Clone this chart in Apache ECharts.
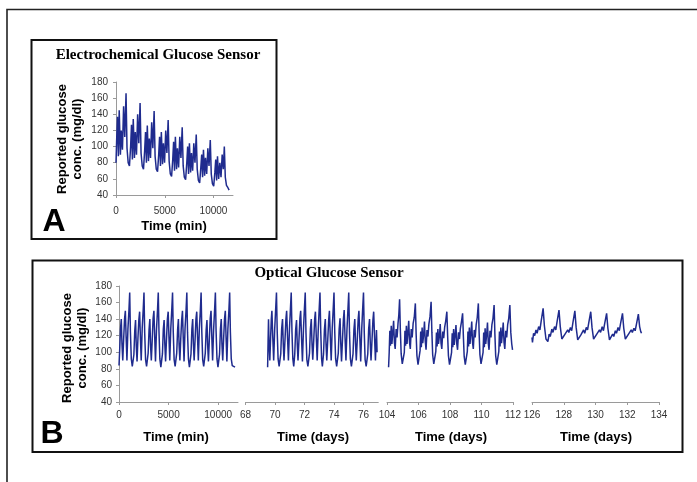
<!DOCTYPE html>
<html><head><meta charset="utf-8">
<script src="https://cdn.jsdelivr.net/npm/echarts@6/dist/echarts.min.js"></script>
<style>html,body{margin:0;padding:0;background:#fff}#c{width:697px;height:482px}</style>
</head><body><div id="c"></div>
<script>
// ---- Data ----
// Panel A: electrochemical sensor, time (min) vs reported glucose (mg/dl)
const elecA = [
[0,80],[60,105],[150,137],[240,88],[330,145],[450,90],[540,120],[660,96],[780,150],[900,112],[1030,166],[1130,98],[1250,80],[1380,76],
[1500,100],[1590,127],[1680,84],[1770,134],[1890,86],[1980,118],[2100,90],[2220,140],[2340,104],[2470,154],[2570,92],[2690,76],[2820,72],
[2940,95],[3030,118],[3120,80],[3210,126],[3330,82],[3420,110],[3540,86],[3660,130],[3780,98],[3910,144],[4010,88],[4130,72],[4260,69],
[4380,90],[4470,112],[4560,76],[4650,118],[4770,78],[4860,104],[4980,80],[5100,120],[5220,92],[5350,133],[5450,82],[5570,66],[5700,63],
[5820,84],[5910,106],[6000,70],[6090,112],[6210,72],[6300,98],[6420,74],[6540,112],[6660,86],[6790,124],[6890,76],[7010,62],[7140,59],
[7260,80],[7350,100],[7440,66],[7530,104],[7650,68],[7740,92],[7860,70],[7980,104],[8100,80],[8230,115],[8330,72],[8450,58],[8580,55],
[8700,74],[8790,90],[8880,62],[8970,96],[9090,64],[9180,86],[9300,66],[9420,98],[9540,76],[9670,108],[9770,66],[9890,54],[10020,51],
[10140,68],[10230,84],[10320,58],[10410,88],[10530,60],[10650,80],[10770,62],[10890,90],[11010,72],[11110,100],[11210,62],[11330,52],[11480,49],[11600,46]
];
// Panel B, segment 1: optical sensor, time (min)
const optB1 = [
[0,84],[60,100],[150,128],[230,140],[300,110],[380,90],[470,116],[560,140],[640,150],[720,118],[800,90],[900,128],[1000,150],[1080,172],[1150,125],[1240,92],[1340,83],
[1440,82],[1500,97],[1590,126],[1670,139],[1740,108],[1820,89],[1910,117],[2000,139],[2080,149],[2160,117],[2240,90],[2340,129],[2440,151],[2520,172],[2590,124],[2680,91],[2780,83],
[2880,82],[2940,99],[3030,127],[3110,140],[3180,109],[3260,90],[3350,115],[3440,141],[3520,150],[3600,119],[3680,89],[3780,127],[3880,150],[3960,172],[4030,126],[4120,92],[4220,82],
[4320,82],[4380,98],[4470,128],[4550,139],[4620,110],[4700,89],[4790,116],[4880,140],[4960,149],[5040,118],[5120,90],[5220,128],[5320,151],[5400,172],[5470,125],[5560,91],[5660,83],
[5760,82],[5820,99],[5910,127],[5990,140],[6060,109],[6140,90],[6230,117],[6320,139],[6400,150],[6480,117],[6560,89],[6660,129],[6760,150],[6840,172],[6910,124],[7000,92],[7100,82],
[7200,82],[7260,98],[7350,128],[7430,140],[7500,110],[7580,90],[7670,115],[7760,140],[7840,149],[7920,118],[8000,90],[8100,128],[8200,150],[8280,172],[8350,125],[8440,91],[8540,83],
[8640,82],[8700,99],[8790,127],[8870,139],[8940,109],[9020,89],[9110,116],[9200,141],[9280,150],[9360,118],[9440,90],[9540,127],[9640,151],[9720,172],[9790,126],[9880,92],[9980,82],
[10080,82],[10140,98],[10230,128],[10310,140],[10380,110],[10460,90],[10550,116],[10640,140],[10720,150],[10800,117],[10880,89],[10980,128],[11080,150],[11160,172],[11230,125],[11320,92],[11420,84],[11560,82],[11700,82]
];
// Panel B, segment 2: days 68-77
const optB2 = [
[69.5,82],[69.53,112],[69.56,140],[69.6,110],[69.65,90],[69.7,116],[69.75,140],[69.79,150],[69.85,118],[69.91,90],[69.98,128],[70.04,150],[70.1,172],[70.15,125],[70.21,92],[70.28,83],
[70.35,82],[70.39,98],[70.45,128],[70.51,140],[70.56,110],[70.61,90],[70.68,116],[70.74,140],[70.79,150],[70.85,118],[70.91,90],[70.98,128],[71.04,150],[71.1,172],[71.15,125],[71.21,92],[71.27,83],
[71.3,82],[71.34,98],[71.4,127],[71.46,139],[71.51,109],[71.56,90],[71.63,117],[71.69,141],[71.74,150],[71.8,117],[71.86,89],[71.93,128],[71.99,151],[72.05,172],[72.1,124],[72.16,91],[72.23,83],
[72.3,82],[72.34,99],[72.4,128],[72.46,140],[72.51,110],[72.56,91],[72.63,116],[72.69,140],[72.74,149],[72.8,118],[72.86,90],[72.93,127],[72.99,150],[73.05,172],[73.1,126],[73.16,92],[73.21,83],
[73.25,82],[73.29,98],[73.35,127],[73.41,140],[73.46,109],[73.51,90],[73.58,116],[73.64,139],[73.69,150],[73.75,118],[73.81,90],[73.88,129],[73.94,150],[74.0,172],[74.05,125],[74.11,92],[74.18,83],
[74.25,82],[74.29,99],[74.35,128],[74.41,141],[74.46,110],[74.51,89],[74.58,117],[74.64,140],[74.69,151],[74.75,117],[74.81,90],[74.88,128],[74.94,150],[75.0,172],[75.05,124],[75.11,92],[75.18,83],
[75.25,82],[75.29,98],[75.35,127],[75.41,140],[75.46,110],[75.51,90],[75.58,116],[75.64,140],[75.69,150],[75.75,118],[75.81,89],[75.88,128],[75.94,151],[76.0,172],[76.05,125],[76.11,91],[76.18,83],
[76.25,82],[76.29,98],[76.35,128],[76.41,140],[76.46,110],[76.51,90],[76.58,116],[76.64,139],[76.69,149],[76.75,118],[76.81,90],[76.88,127],[76.92,100]
];
// Panel B, segment 3: days 104-112
const optB3 = [
[104.1,82],[104.14,100],[104.18,126],[104.22,108],[104.27,132],[104.31,110],[104.37,124],[104.42,138],[104.47,112],[104.52,104],[104.58,128],[104.64,118],[104.7,135],[104.75,145],[104.8,164],
[104.85,125],[104.9,98],[104.97,86],[105.05,84],[105.1,100],[105.14,126],[105.18,108],[105.23,132],[105.27,110],[105.33,124],[105.38,138],[105.43,112],[105.48,104],[105.54,128],[105.6,118],[105.66,135],[105.73,142],[105.8,159],
[105.85,122],[105.9,96],[105.97,85],[106.05,84],[106.1,102],[106.14,125],[106.18,106],[106.23,130],[106.27,111],[106.33,122],[106.38,137],[106.43,113],[106.48,103],[106.54,127],[106.6,119],[106.66,134],[106.73,143],[106.8,161],
[106.85,124],[106.9,97],[106.97,86],[107.05,85],[107.1,101],[107.14,124],[107.18,107],[107.23,128],[107.27,110],[107.33,120],[107.38,134],[107.43,111],[107.48,104],[107.54,125],[107.6,117],[107.66,130],[107.73,138],[107.8,149],
[107.85,120],[107.9,96],[107.97,85],[108.05,84],[108.1,100],[108.14,123],[108.18,106],[108.23,128],[108.27,109],[108.33,121],[108.38,133],[108.43,110],[108.48,103],[108.54,124],[108.6,116],[108.66,129],[108.73,137],[108.8,147],
[108.85,119],[108.9,95],[108.97,85],[109.05,84],[109.1,101],[109.14,125],[109.18,107],[109.23,130],[109.27,110],[109.33,123],[109.38,137],[109.43,112],[109.48,104],[109.54,127],[109.6,118],[109.66,133],[109.73,142],[109.8,159],
[109.85,123],[109.9,97],[109.97,86],[110.05,85],[110.1,100],[110.14,124],[110.18,106],[110.23,129],[110.27,110],[110.33,122],[110.38,136],[110.43,111],[110.48,103],[110.54,126],[110.6,118],[110.66,133],[110.73,141],[110.8,157],
[110.85,122],[110.9,96],[110.97,85],[111.05,84],[111.1,101],[111.14,125],[111.18,107],[111.23,130],[111.27,111],[111.33,123],[111.38,136],[111.43,112],[111.48,104],[111.54,126],[111.6,118],[111.66,133],[111.73,141],[111.8,157],
[111.86,124],[111.92,110],[111.97,103]
];
// Panel B, segment 4: days 126-134
const optB4 = [
[126.0,118],[126.03,112],[126.1,123],[126.17,120],[126.25,127],[126.32,123],[126.42,131],[126.5,127],[126.58,138],[126.7,153],
[126.78,132],[126.88,116],[127.0,113],[127.08,122],[127.15,119],[127.25,128],[127.32,124],[127.42,131],[127.5,127],[127.58,137],[127.7,151],
[127.78,131],[127.88,116],[128.0,114],[128.08,122],[128.15,120],[128.25,127],[128.32,124],[128.42,130],[128.5,126],[128.58,136],[128.7,150],
[128.78,130],[128.88,115],[129.0,113],[129.08,121],[129.15,119],[129.25,127],[129.32,123],[129.42,130],[129.5,127],[129.58,136],[129.7,149],
[129.78,130],[129.88,116],[130.0,114],[130.08,122],[130.15,120],[130.25,127],[130.32,124],[130.42,131],[130.5,126],[130.58,135],[130.7,147],
[130.78,129],[130.88,115],[131.0,114],[131.08,122],[131.15,119],[131.25,126],[131.32,123],[131.42,130],[131.5,126],[131.58,135],[131.7,147],
[131.78,129],[131.88,116],[132.0,115],[132.08,122],[132.15,120],[132.25,127],[132.32,124],[132.42,129],[132.5,126],[132.58,134],[132.7,146],
[132.78,131],[132.85,125],[132.9,123]
];
// Tick labels
const yTicks = [40, 60, 80, 100, 120, 140, 160, 180];
const ticksMin = [0, 5000, 10000];
const ticksB2 = [68, 70, 72, 74, 76];
const ticksB3 = [104, 106, 108, 110, 112];
const ticksB4 = [126, 128, 130, 132, 134];

const SANS = 'Liberation Sans, Arial, sans-serif';
const SERIF = 'Liberation Serif, Times New Roman, serif';
const LINE = '#1f2b8e';
const AX = '#9a9a9a';
const plain = v => String(v);

function yAx(gi, show, margin) {
  return {
    gridIndex: gi, type: 'value', min: 40, max: 180, interval: 20, show: show,
    axisLine: {show: true, lineStyle: {color: AX, width: 1}},
    axisTick: {show: true, length: 3, lineStyle: {color: AX}},
    splitLine: {show: false},
    axisLabel: {color: '#333', fontFamily: SANS, fontSize: 10, margin: margin,
      customValues: yTicks, formatter: plain}
  };
}
function xAx(gi, min, max, ticks, margin) {
  return {
    gridIndex: gi, type: 'value', min: min, max: max,
    axisLine: {show: true, onZero: false, lineStyle: {color: AX, width: 1}},
    axisTick: {show: true, length: 3, lineStyle: {color: AX}, customValues: ticks},
    splitLine: {show: false},
    axisLabel: {color: '#333', fontFamily: SANS, fontSize: 10, margin: margin,
      customValues: ticks, hideOverlap: false, formatter: plain}
  };
}
function ser(i, data) {
  return {type: 'line', xAxisIndex: i, yAxisIndex: i, data: data, showSymbol: false,
    symbol: 'none', lineStyle: {color: LINE, width: 1.5}, silent: true, clip: false};
}
function txt(x, y, s, size, family, rot) {
  return {type: 'text', x: x, y: y, rotation: rot || 0, silent: true,
    style: {text: s, fontSize: size, fontWeight: 'bold', fontFamily: family,
      fill: '#000', align: 'center', verticalAlign: 'middle'}};
}
const R = Math.PI / 2;

const gridBase = {containLabel: false, outerBoundsMode: 'none'};
const option = {
  animation: false,
  backgroundColor: '#fff',
  grid: [
    Object.assign({left: 116, top: 82, width: 117, height: 113}, gridBase),
    Object.assign({left: 119, top: 286, width: 119, height: 116}, gridBase),
    Object.assign({left: 245.5, top: 286, width: 132.75, height: 116}, gridBase),
    Object.assign({left: 387, top: 286, width: 126, height: 116}, gridBase),
    Object.assign({left: 532, top: 286, width: 127, height: 116}, gridBase)
  ],
  xAxis: [
    xAx(0, 0, 12000, ticksMin, 11),
    xAx(1, 0, 12000, ticksMin, 8),
    xAx(2, 68, 77, ticksB2, 8),
    xAx(3, 104, 112, ticksB3, 8),
    xAx(4, 126, 134, ticksB4, 8)
  ],
  yAxis: [yAx(0, true, 8), yAx(1, true, 7), yAx(2, false, 7), yAx(3, false, 7), yAx(4, false, 7)],
  series: [ser(0, elecA), ser(1, optB1), ser(2, optB2), ser(3, optB3), ser(4, optB4)],
  graphic: [
    {type: 'polyline', silent: true, shape: {points: [[7, 482], [7, 9.5], [697, 9.5]]},
      style: {stroke: '#222', lineWidth: 1.6, fill: null}},
    {type: 'rect', silent: true, shape: {x: 31.5, y: 40, width: 245, height: 199},
      style: {stroke: '#111', lineWidth: 2, fill: null}},
    {type: 'rect', silent: true, shape: {x: 32.5, y: 260.5, width: 650, height: 191.5},
      style: {stroke: '#111', lineWidth: 2, fill: null}},
    txt(158, 55, 'Electrochemical Glucose Sensor', 15, SERIF),
    txt(329, 273, 'Optical Glucose Sensor', 15, SERIF),
    txt(62, 139, 'Reported glucose', 13, SANS, R),
    txt(77, 139, 'conc. (mg/dl)', 13, SANS, R),
    txt(174, 226, 'Time (min)', 13, SANS),
    txt(67, 348, 'Reported glucose', 13, SANS, R),
    txt(82, 348, 'conc. (mg/dl)', 13, SANS, R),
    txt(176, 437, 'Time (min)', 13, SANS),
    txt(313, 437, 'Time (days)', 13, SANS),
    txt(451, 437, 'Time (days)', 13, SANS),
    txt(596, 437, 'Time (days)', 13, SANS),
    txt(54, 222, 'A', 32, SANS),
    txt(52, 434, 'B', 32, SANS)
  ]
};
const chart = echarts.init(document.getElementById('c'), null, {renderer: 'canvas'});
chart.setOption(option);
</script>
</body></html>
